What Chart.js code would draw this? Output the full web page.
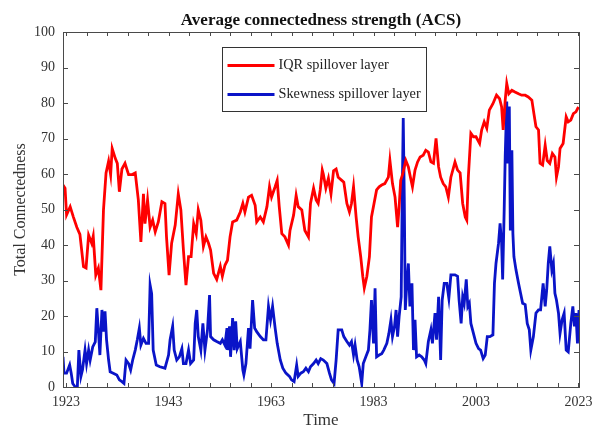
<!DOCTYPE html>
<html>
<head>
<meta charset="utf-8">
<script src="https://cdn.jsdelivr.net/npm/chart.js@4.4.1/dist/chart.umd.min.js"></script>
<style>
  html, body { margin: 0; padding: 0; background: #fff; }
  #wrap { width: 592px; height: 427px; }
</style>
</head>
<body>
<div id="wrap"><canvas id="acsChart" width="592" height="427"></canvas></div>
<script>
// values
const iqrYears = [
  1922.4, 1922.8, 1923.1, 1923.8, 1924.4, 1925.1, 1925.7, 1926.4, 1926.9, 1927.4,
  1928.0, 1928.3, 1928.8, 1929.3, 1929.8, 1930.3, 1930.8, 1931.3, 1931.7, 1932.0,
  1932.6, 1933.0, 1933.4, 1933.9, 1934.5, 1935.2, 1935.8, 1936.5, 1937.1, 1937.6,
  1938.1, 1938.4, 1938.9, 1939.4, 1939.9, 1940.4, 1941.0, 1941.7, 1942.3, 1942.6,
  1943.1, 1943.6, 1944.3, 1944.9, 1945.4, 1945.9, 1946.4, 1946.9, 1947.4,
  1947.9, 1948.4, 1948.8, 1949.3, 1949.8, 1950.3, 1950.8, 1951.2, 1951.8, 1952.4,
  1953.1, 1953.5, 1954.0, 1954.5, 1955.0, 1955.5, 1956.3, 1957.0, 1957.5, 1957.9,
  1958.6, 1959.2, 1959.9, 1960.2, 1960.9, 1961.5, 1962.2, 1962.7, 1963.1, 1963.8,
  1964.2, 1964.6, 1965.1, 1965.7, 1966.4, 1966.7, 1967.4, 1967.9, 1968.3, 1969.0,
  1969.6, 1970.3, 1970.7, 1971.3, 1971.8, 1972.2, 1972.6, 1973.0,
  1973.2, 1973.7, 1974.2, 1974.7, 1975.2, 1975.7, 1976.1, 1976.8, 1977.2, 1977.8,
  1978.3, 1978.7, 1979.1, 1979.6, 1980.0, 1980.5, 1980.9, 1981.2, 1981.7, 1982.2,
  1982.6, 1983.1, 1983.6, 1984.1, 1984.6, 1985.2, 1985.9, 1986.2, 1986.7, 1987.2,
  1987.7, 1988.0, 1988.3, 1988.7, 1989.3, 1989.8, 1990.2, 1990.6, 1991.1, 1991.6,
  1992.1, 1992.7, 1993.2, 1993.7, 1994.2, 1994.7, 1995.2, 1995.7, 1996.1, 1996.6,
  1997.1, 1997.6, 1998.1,
  1998.9, 1999.4, 1999.9, 2000.4, 2000.9, 2001.2, 2001.5, 2002.0, 2002.5, 2003.0,
  2003.7, 2004.1, 2004.6, 2005.1, 2005.6, 2006.3, 2007.0, 2007.6, 2008.0, 2008.3,
  2008.7, 2009.0, 2009.4, 2010.0, 2010.6, 2011.3, 2011.9, 2012.6, 2013.2, 2013.9,
  2014.3, 2014.7, 2015.2, 2015.5, 2016.0, 2016.5, 2016.9, 2017.4, 2017.9, 2018.4,
  2018.7, 2019.1, 2019.4, 2020.0, 2020.6, 2021.0, 2021.5, 2022.0, 2022.5, 2023.0
];
const iqrValues = [
  56.9, 56.0, 48.5, 50.8, 48.0, 45.0, 43.0, 33.9, 33.5, 42.8,
  40.5, 42.5, 31.5, 33.5, 27.3, 49.9, 60.3, 63.6, 59.8, 67.2,
  64.4, 63.0, 55.0, 61.4, 63.0, 59.8, 59.8, 60.3, 52.7, 40.9,
  54.4, 46.0, 52.7, 45.0, 47.0, 43.7, 46.5, 52.2, 51.7, 42.3,
  31.5, 40.5, 45.6, 54.4, 49.9, 38.6, 28.7, 36.7, 36.7,
  46.0, 43.2, 49.9, 47.0, 39.6, 42.3, 40.5, 38.6, 32.0, 30.3,
  34.0, 31.2, 34.3, 35.7, 42.3, 46.5, 47.0, 49.3, 51.7, 49.3,
  53.5, 54.0, 51.2, 46.5, 47.9, 46.5, 50.8, 56.4, 53.5, 56.4,
  58.2, 50.8, 43.2, 42.3, 40.0, 44.1, 48.4, 54.0, 50.8, 49.9,
  44.1, 42.3, 51.7, 56.0, 52.7, 51.7, 55.5, 61.1,
  60.0, 56.0, 58.8, 54.4, 60.9, 61.4, 59.1, 58.2, 57.7, 51.7,
  49.3, 51.7, 56.4, 47.9, 42.3, 36.7, 31.2, 27.9, 31.2, 36.7,
  47.9, 51.7, 55.5, 56.4, 56.9, 57.3, 59.1, 63.8, 57.3, 53.5,
  45.0, 50.8, 58.2, 60.0, 63.8, 62.0, 59.1, 56.4, 61.1, 63.4,
  64.8, 65.3, 66.7, 66.2, 63.4, 63.0, 70.0, 62.0, 59.1, 57.3,
  56.4, 53.5, 59.1,
  63.4, 61.1, 60.3, 51.7, 47.9, 47.0, 59.1, 71.5, 70.5, 70.5,
  68.6, 72.4, 74.7, 72.9, 78.0, 79.8, 82.2, 81.2, 78.9, 72.4,
  80.8, 85.5, 82.6, 83.6, 83.1, 82.6, 82.2, 82.2, 81.7, 80.8,
  77.0, 73.3, 72.4, 63.0, 62.5, 68.1, 63.8, 63.0, 65.8, 64.8,
  59.1, 62.0, 67.2, 68.6, 76.1, 74.7, 75.2, 77.0, 77.5, 78.9
];

const skewYears = [
  1922.4, 1922.6, 1923.1, 1923.7, 1924.0, 1924.3, 1924.8, 1925.2, 1925.5, 1925.9,
  1926.2, 1926.7, 1927.0, 1927.4, 1927.7, 1928.2, 1928.7, 1929.0, 1929.3, 1929.6,
  1930.0, 1930.3, 1930.6, 1930.9, 1931.3, 1931.6, 1932.2, 1932.9, 1933.4, 1933.9,
  1934.3, 1934.7, 1935.2, 1935.6, 1936.0, 1936.5, 1936.9, 1937.3, 1937.6, 1938.1,
  1938.6, 1939.1, 1939.4, 1939.7, 1940.0, 1940.6, 1941.3, 1942.3, 1943.0, 1943.3,
  1943.8, 1944.1, 1944.6, 1945.1, 1945.6, 1945.9, 1946.4, 1946.9, 1947.3,
  1947.9, 1948.2, 1948.5, 1948.8, 1949.3, 1949.7, 1950.1, 1950.6, 1951.0, 1951.2,
  1951.8, 1952.4, 1953.1, 1953.5, 1954.0, 1954.4, 1954.5, 1954.9, 1955.1, 1955.5,
  1955.8, 1956.1, 1956.4, 1957.0, 1957.5, 1957.7, 1958.1, 1958.6, 1958.9, 1959.4,
  1959.8, 1960.2, 1960.9, 1961.5, 1962.0, 1962.5, 1962.9, 1963.3, 1963.8, 1964.2,
  1964.8, 1965.3, 1965.9, 1966.6, 1967.0, 1967.5, 1968.0, 1968.3, 1968.8, 1969.3,
  1969.8, 1970.3, 1970.7, 1971.3, 1971.8, 1972.2, 1972.7,
  1973.2, 1973.9, 1974.4, 1974.8, 1975.3, 1975.7, 1976.1, 1976.8, 1977.2, 1977.8,
  1978.3, 1978.7, 1979.1, 1979.4, 1979.8, 1980.2, 1980.7, 1981.0, 1981.5, 1982.0,
  1982.3, 1982.6, 1983.0, 1983.3, 1983.6, 1984.1, 1984.6, 1985.0, 1985.6, 1986.0,
  1986.4, 1986.7, 1987.1, 1987.4, 1987.7, 1988.0, 1988.4, 1988.6, 1988.8, 1989.0,
  1989.2, 1989.5, 1989.8, 1990.1, 1990.5, 1990.8, 1991.1, 1991.4, 1991.9, 1992.4,
  1992.9, 1993.2, 1993.7, 1994.2, 1994.5, 1995.0, 1995.3, 1995.7, 1996.1, 1996.4,
  1996.8, 1997.3, 1997.7, 1998.1,
  1998.9, 1999.4, 1999.7, 2000.1, 2000.4, 2000.7, 2001.1, 2001.4, 2001.7, 2002.0,
  2002.5, 2003.0, 2003.5, 2003.9, 2004.4, 2004.8, 2005.2, 2005.7, 2006.3, 2006.6,
  2006.9, 2007.4, 2007.7, 2008.0, 2008.2, 2008.5, 2008.7, 2009.0, 2009.2, 2009.5,
  2009.7, 2010.0, 2010.2, 2010.4, 2010.8, 2011.3, 2011.7, 2012.1, 2012.6, 2013.0,
  2013.4, 2013.7, 2014.2, 2014.7, 2015.2, 2015.6, 2016.1, 2016.5, 2016.8, 2017.1,
  2017.4, 2017.8, 2018.1, 2018.4, 2018.7, 2019.1, 2019.4, 2019.8, 2020.2, 2020.6,
  2021.0, 2021.5, 2021.9, 2022.2, 2022.5, 2022.8, 2023.1
];
const skewValues = [
  8.5, 3.9, 3.9, 6.2, 3.9, 1.0, 0.0, 0.0, 10.4, 3.0,
  4.8, 10.4, 6.6, 10.4, 7.6, 11.3, 12.7, 22.2, 16.1, 9.0,
  21.7, 15.6, 21.3, 13.3, 7.6, 4.3, 3.9, 3.4, 2.0, 1.5,
  1.0, 7.6, 6.6, 4.8, 7.6, 10.4, 13.3, 16.6, 11.8, 13.7,
  12.3, 12.3, 28.7, 26.3, 10.4, 6.2, 5.7, 5.3, 9.0, 13.3,
  17.1, 10.4, 7.6, 8.5, 10.8, 6.6, 6.6, 10.4, 6.6,
  7.6, 17.9, 21.7, 14.2, 10.4, 17.9, 10.4, 16.1, 25.9, 14.2,
  13.3, 12.8, 12.3, 13.3, 11.8, 16.6, 10.4, 17.1, 8.5, 19.4,
  10.4, 18.5, 10.8, 12.8, 4.8, 3.4, 6.6, 16.6, 10.8, 24.5,
  16.6, 15.6, 14.2, 13.3, 13.3, 22.7, 18.9, 22.7, 16.6, 12.3,
  7.6, 5.3, 3.9, 3.0, 2.0, 1.5, 6.2, 3.0, 3.9, 4.3,
  5.3, 4.3, 5.7, 6.6, 7.6, 6.6, 8.0,
  7.6, 6.6, 3.9, 2.0, 1.0, 7.6, 16.1, 16.1, 14.2, 12.8,
  11.8, 12.8, 9.0, 11.8, 7.6, 5.7, 1.0, 6.6, 8.5, 10.4,
  16.1, 24.5, 12.3, 27.8, 8.5, 9.0, 9.4, 10.4, 12.3, 15.1,
  18.9, 14.2, 17.1, 21.7, 14.2, 19.9, 25.4, 53.5, 75.8, 53.5,
  21.7, 29.2, 34.8, 22.7, 29.2, 10.4, 18.9, 8.5, 9.0, 8.5,
  7.6, 6.6, 12.8, 16.1, 12.3, 20.8, 13.3, 25.4, 7.6, 24.5,
  29.2, 29.2, 25.0, 31.6,
  31.6, 31.2, 24.5, 17.9, 25.4, 23.6, 30.3, 22.7, 23.6, 17.9,
  15.1, 12.3, 10.8, 10.4, 8.0, 9.0, 14.2, 14.2, 14.7, 29.2,
  34.8, 40.5, 46.1, 40.5, 30.3, 49.9, 64.9, 80.4, 63.0, 79.0,
  44.1, 66.7, 43.2, 36.7, 33.0, 29.2, 26.4, 23.6, 23.2, 17.9,
  16.1, 10.4, 14.2, 20.8, 21.7, 21.7, 29.2, 22.7, 27.4, 34.8,
  39.6, 33.0, 34.8, 26.4, 24.5, 20.8, 15.1, 18.9, 20.8, 10.4,
  9.9, 17.9, 22.7, 17.1, 20.8, 12.3, 21.7
];

const seriesLabels = ["IQR spillover layer", "Skewness spillover layer"];
const xTickYears = [1923, 1943, 1963, 1983, 2003, 2023];
const yTickValues = [0, 10, 20, 30, 40, 50, 60, 70, 80, 90, 100];

const toPoints = (xs, ys) => xs.map((x, i) => ({ x: x, y: ys[i] }));

const serif = "'Liberation Serif', 'Times New Roman', serif";
const frameColor = "#4a4a4a";

// box, inward ticks and the inside legend
const framePlugin = {
  id: "frame",
  afterDatasetsDraw(chart) {
    const { ctx, chartArea: a, scales } = chart;
    ctx.save();
    ctx.strokeStyle = frameColor;
    ctx.lineWidth = 1;
    ctx.strokeRect(a.left + 0.5, a.top + 0.5, a.right - a.left, a.bottom - a.top);
    ctx.beginPath();
    for (let yr = 1923; yr <= 2023; yr += 4) {
      const px = Math.round(scales.x.getPixelForValue(yr)) + 0.5;
      ctx.moveTo(px, a.bottom);
      ctx.lineTo(px, a.bottom - 4);
      ctx.moveTo(px, a.top);
      ctx.lineTo(px, a.top + 4);
    }
    yTickValues.forEach((v) => {
      const py = Math.round(scales.y.getPixelForValue(v)) + 0.5;
      ctx.moveTo(a.left, py);
      ctx.lineTo(a.left + 5, py);
      ctx.moveTo(a.right, py);
      ctx.lineTo(a.right - 5, py);
    });
    ctx.stroke();

    // legend
    const lx = 222.5, ly = 47.5, lw = 204, lh = 64;
    ctx.fillStyle = "#fff";
    ctx.fillRect(lx, ly, lw, lh);
    ctx.strokeStyle = "#333";
    ctx.strokeRect(lx, ly, lw, lh);
    ctx.font = "14.3px " + serif;
    ctx.textBaseline = "middle";
    chart.data.datasets.forEach((ds, i) => {
      const cy = ly + 18 + i * 29;
      ctx.strokeStyle = ds.borderColor;
      ctx.lineWidth = 3;
      ctx.beginPath();
      ctx.moveTo(lx + 5, cy);
      ctx.lineTo(lx + 52, cy);
      ctx.stroke();
      ctx.fillStyle = "#222";
      ctx.fillText(ds.label, lx + 56, cy);
    });
    ctx.restore();
  },
};

const ctx = document.getElementById("acsChart").getContext("2d");
new Chart(ctx, {
  type: "line",
  data: {
    datasets: [
      {
        label: seriesLabels[0],
        data: toPoints(iqrYears, iqrValues),
        borderColor: "#ff0000",
        borderWidth: 2.8,
        pointRadius: 0,
        tension: 0,
      },
      {
        label: seriesLabels[1],
        data: toPoints(skewYears, skewValues),
        borderColor: "#0a14c8",
        borderWidth: 2.8,
        pointRadius: 0,
        tension: 0,
      },
    ],
  },
  options: {
    responsive: false,
    animation: false,
    layout: { padding: { left: 0, right: 13, top: 0, bottom: 0 } },
    plugins: {
      legend: { display: false },
      tooltip: { enabled: false },
      title: {
        display: true,
        text: "Average connectedness strength (ACS)",
        fullSize: false,
        color: "#111",
        font: { family: serif, size: 17, weight: "bold" },
        padding: { top: 10, bottom: 1.6 },
      },
    },
    scales: {
      x: {
        type: "linear",
        min: 1922.4,
        max: 2023.1,
        grid: { display: false, drawTicks: false },
        border: { display: false },
        afterBuildTicks: (scale) => {
          scale.ticks = xTickYears.map((v) => ({ value: v }));
        },
        afterFit: (scale) => {
          scale.height = 40;
          scale.paddingLeft = 0;
          scale.paddingRight = 0;
        },
        ticks: {
          autoSkip: false,
          maxRotation: 0,
          padding: 7,
          color: "#333",
          font: { family: serif, size: 14 },
          callback: (v) => String(v),
        },
        title: {
          display: true,
          text: "Time",
          color: "#333",
          font: { family: serif, size: 17 },
          padding: { top: 0, bottom: -4 },
        },
      },
      y: {
        min: 0,
        max: 100,
        grid: { display: false, drawTicks: false },
        border: { display: false },
        afterBuildTicks: (scale) => {
          scale.ticks = yTickValues.map((v) => ({ value: v }));
        },
        afterFit: (scale) => {
          scale.width = 63;
          scale.paddingTop = 0;
          scale.paddingBottom = 0;
        },
        ticks: {
          padding: 8,
          color: "#333",
          font: { family: serif, size: 14 },
        },
        title: {
          display: true,
          text: "Total Connectedness",
          color: "#333",
          font: { family: serif, size: 16 },
          padding: { top: 11, bottom: 0 },
        },
      },
    },
  },
  plugins: [framePlugin],
});
</script>
</body>
</html>
